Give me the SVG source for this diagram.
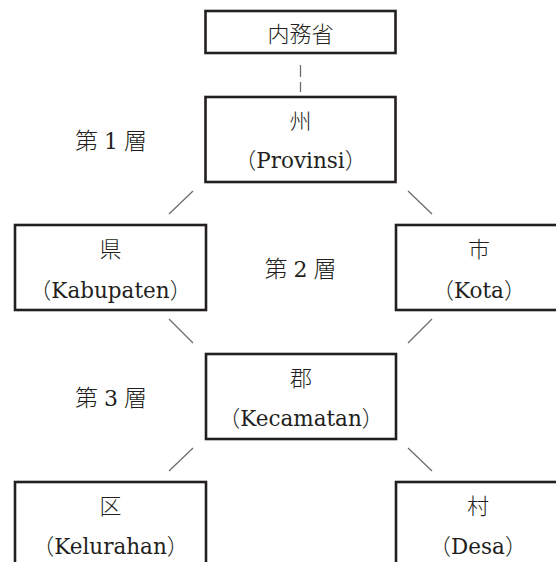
<svg xmlns="http://www.w3.org/2000/svg" width="556" height="562" viewBox="0 0 556 562">
<style>
.box{fill:#fff;stroke:#231f20;stroke-width:2.6}
.con{stroke:#6d6d6d;stroke-width:1.3;fill:none}
.dash{stroke:#6d6d6d;stroke-width:1.3;stroke-dasharray:12 5;fill:none}
.jp{font-family:'Noto Sans CJK JP',sans-serif;font-size:22px;font-weight:300;fill:#231f20;text-anchor:middle}
.lat{font-family:'DejaVu Serif','Liberation Serif',serif;font-size:21.5px;fill:#231f20;text-anchor:middle}
.p{font-family:'Noto Sans CJK JP',sans-serif;font-weight:300;font-size:22px}
.lay{font-family:'Noto Sans CJK JP',sans-serif;font-size:23px;font-weight:300;fill:#231f20;text-anchor:middle}
.d{font-family:'DejaVu Serif','Liberation Serif',serif;font-size:22px}
</style>
<rect width="556" height="562" fill="#fff"/>
<g id="connectors">
<line class="dash" x1="300.5" y1="65" x2="300.5" y2="92"/>
<line class="con" x1="169" y1="214" x2="193" y2="191"/>
<line class="con" x1="408" y1="191" x2="432" y2="214"/>
<line class="con" x1="169" y1="319" x2="193" y2="343"/>
<line class="con" x1="408" y1="343" x2="432" y2="319"/>
<line class="con" x1="169" y1="471" x2="193" y2="448"/>
<line class="con" x1="408" y1="448" x2="432" y2="471"/>
</g>
<g id="naimusho">
<rect class="box" x="205.5" y="11" width="190" height="42"/>
<text class="jp" x="300.5" y="42">内務省</text>
</g>
<g id="provinsi">
<rect class="box" x="205.5" y="97" width="190" height="85"/>
<text class="jp" x="300.5" y="129">州</text>
<text class="lat" x="300.5" y="168"><tspan class="p">（</tspan>Provinsi<tspan class="p">）</tspan></text>
</g>
<g id="kabupaten">
<rect class="box" x="15" y="225" width="191" height="85"/>
<text class="jp" x="110.5" y="257">県</text>
<text class="lat" x="110.5" y="298"><tspan class="p">（</tspan>Kabupaten<tspan class="p">）</tspan></text>
</g>
<g id="kota">
<rect class="box" x="396" y="225" width="180" height="85"/>
<text class="jp" x="479" y="257">市</text>
<text class="lat" x="479" y="298"><tspan class="p">（</tspan>Kota<tspan class="p">）</tspan></text>
</g>
<g id="kecamatan">
<rect class="box" x="206" y="354" width="190" height="85"/>
<text class="jp" x="301" y="386">郡</text>
<text class="lat" x="301" y="426"><tspan class="p">（</tspan>Kecamatan<tspan class="p">）</tspan></text>
</g>
<g id="kelurahan">
<rect class="box" x="15" y="482" width="191" height="90"/>
<text class="jp" x="110.5" y="514">区</text>
<text class="lat" x="110.5" y="554"><tspan class="p">（</tspan>Kelurahan<tspan class="p">）</tspan></text>
</g>
<g id="desa">
<rect class="box" x="396" y="482" width="180" height="90"/>
<text class="jp" x="478" y="514">村</text>
<text class="lat" x="478" y="554"><tspan class="p">（</tspan>Desa<tspan class="p">）</tspan></text>
</g>
<g id="layers">
<text class="lay" x="111" y="149">第<tspan class="d" dx="6">1</tspan><tspan dx="6">層</tspan></text>
<text class="lay" x="300.5" y="277">第<tspan class="d" dx="6">2</tspan><tspan dx="6">層</tspan></text>
<text class="lay" x="111" y="406">第<tspan class="d" dx="6">3</tspan><tspan dx="6">層</tspan></text>
</g>
</svg>
